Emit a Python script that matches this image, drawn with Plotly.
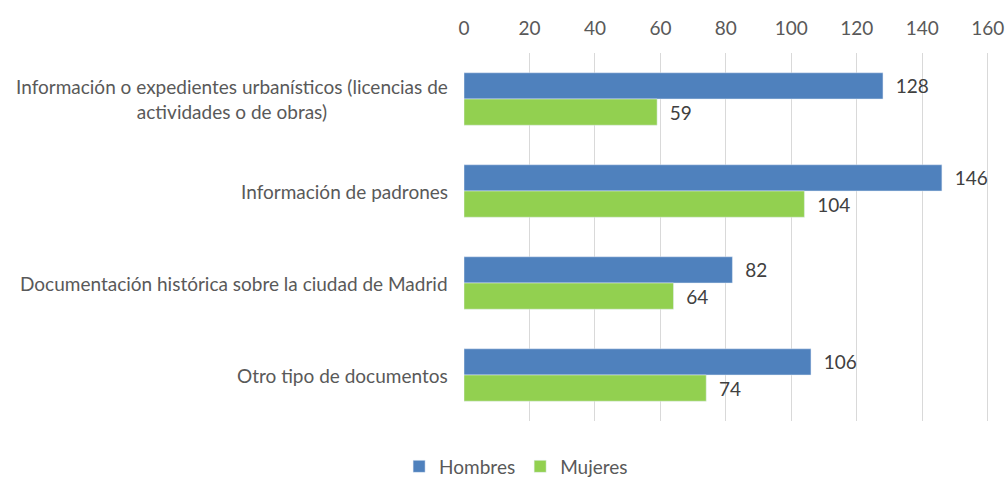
import plotly.graph_objects as go

categorias = [
    "Información o expedientes urbanísticos (licencias de<br>actividades o de obras)",
    "Información de padrones",
    "Documentación histórica sobre la ciudad de Madrid",
    "Otro tipo de documentos",
]
hombres = [128, 146, 82, 106]
mujeres = [59, 104, 64, 74]
ticks = [0, 20, 40, 60, 80, 100, 120, 140, 160]

FONT = "Lato"
GRIS = "#595959"
SIZE = 19

fig = go.Figure()
fig.add_trace(go.Bar(y=categorias, x=hombres, name="Hombres", orientation="h",
                     marker_color="#4F81BD", texttemplate="\u00a0\u00a0%{x}", textposition="outside",
                     textfont=dict(size=SIZE, color="#404040", family=FONT), cliponaxis=False))
fig.add_trace(go.Bar(y=categorias, x=mujeres, name="Mujeres", orientation="h",
                     marker_color="#92D050", texttemplate="\u00a0\u00a0%{x}", textposition="outside",
                     textfont=dict(size=SIZE, color="#404040", family=FONT), cliponaxis=False))

# category labels as annotations so wrapped lines stay centred
for c in categorias:
    fig.add_annotation(x=0, xref="paper", y=c, yref="y", text=c, showarrow=False,
                       xanchor="right", xshift=-14, align="center",
                       font=dict(size=SIZE, color=GRIS, family=FONT))

fig.update_layout(
    width=1008, height=480,
    margin=dict(l=464, r=17, t=53, b=59, autoexpand=False),
    paper_bgcolor="white", plot_bgcolor="white",
    barmode="group", bargap=0.43, bargroupgap=0,
    font=dict(family=FONT, color=GRIS, size=SIZE),
    showlegend=True,
    legend=dict(orientation="h", x=0.512, xref="container", xanchor="center",
                y=-0.072, yanchor="top", font=dict(size=SIZE, color=GRIS),
                itemwidth=30, tracegroupgap=0),
)
# range a bit past 160 so the last gridline is not dropped at the edge
fig.update_xaxes(side="top", range=[0, 161], tickvals=ticks, showgrid=True,
                 gridcolor="#D9D9D9", gridwidth=1, zeroline=False, showline=False,
                 tickfont=dict(size=SIZE, color=GRIS), ticklabelstandoff=13,
                 ticklabeloverflow="allow", automargin=False)
fig.update_yaxes(autorange="reversed", showticklabels=False, showgrid=False,
                 zeroline=False, showline=False, automargin=False)

# drop the default body margin so the figure fills the window exactly
fig.write_html("out.html", config={"displayModeBar": False},
               post_script="document.body.style.margin='0';")
